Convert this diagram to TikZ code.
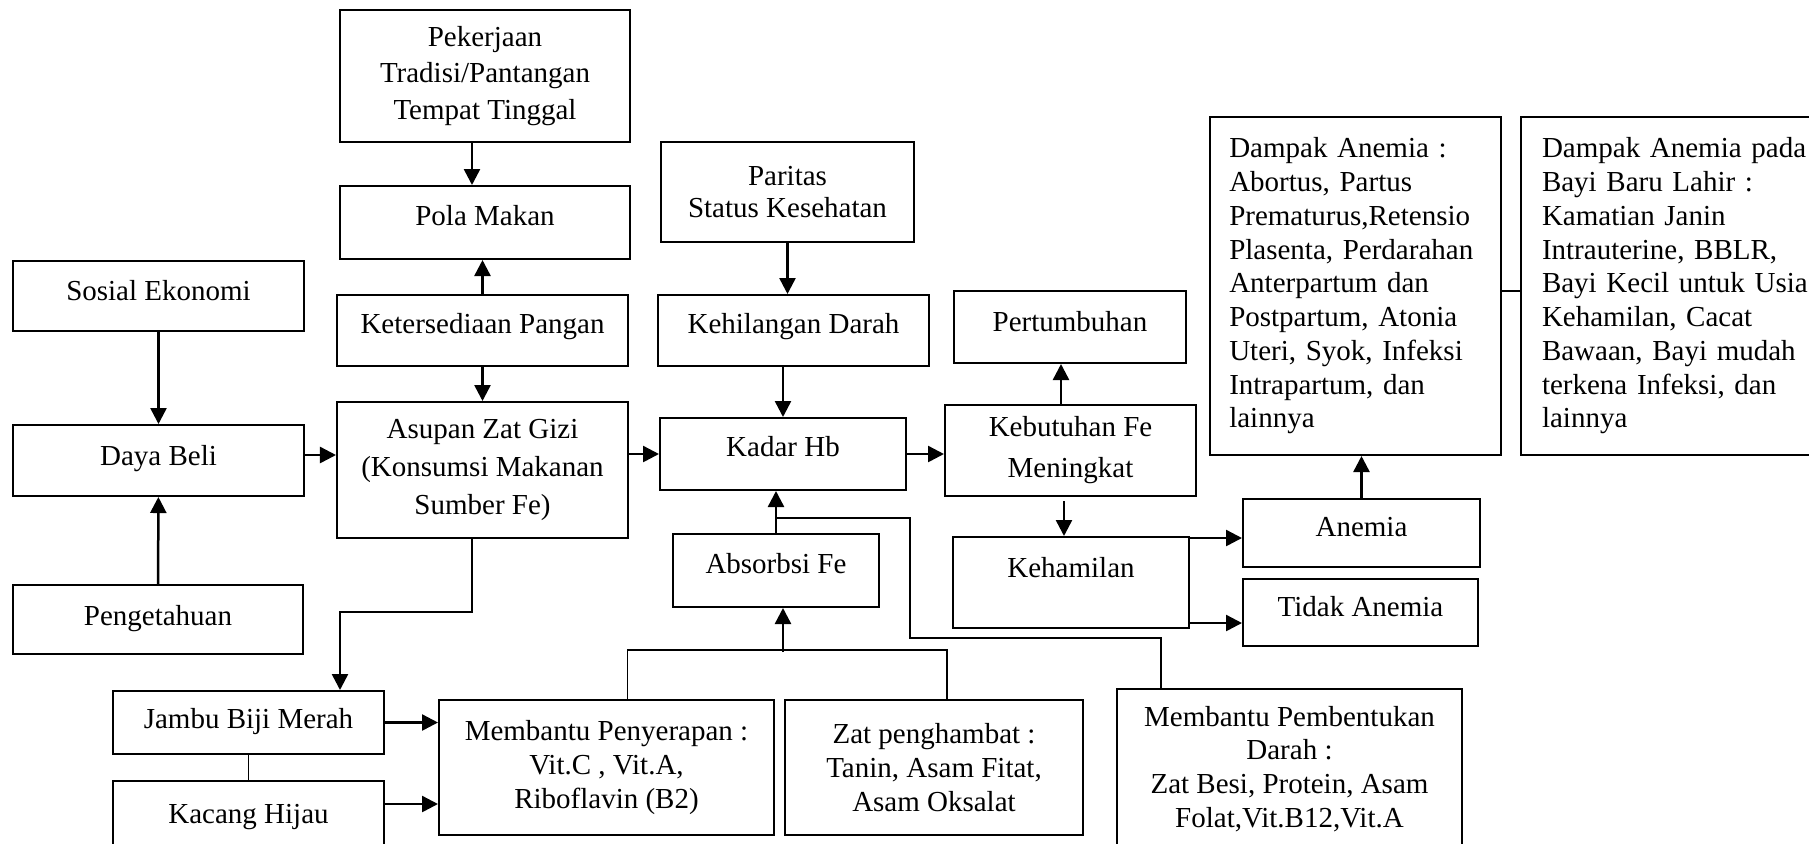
\documentclass[tikz,border=0pt]{standalone}
\usepackage{fontspec}
\setmainfont{Liberation Serif}
\usepackage{tikz}
\usetikzlibrary{arrows.meta}

\begin{document}
\begin{tikzpicture}[>={Triangle[length=6.4pt,width=6.4pt]},x=0.4pt,y=-0.4pt,line width=1pt]
		\tikzstyle{box}=[draw,line width=0.8pt,align=center,inner sep=0pt,font=\fontsize{11.6}{13.5}\selectfont]
		\tikzstyle{line}=[line width=0.6pt]

		\useasboundingbox (0,0) rectangle (1809,843);
		\clip (0,0) rectangle (1809,843);

		\node[box,minimum width=116pt,minimum height=52.8pt,font=\fontsize{11.6}{14.5}\selectfont] (pekerjaan) at (485,76) {Pekerjaan\\Tradisi/Pantangan\\Tempat Tinggal};
		\node[box,minimum width=116pt,minimum height=29.2pt,text depth=6pt] (pola) at (485,222.5) {Pola Makan};
		\node[box,minimum width=116.4pt,minimum height=28pt,text depth=4.8pt] (sosial) at (158.5,296) {Sosial Ekonomi};
		\node[box,minimum width=116.4pt,minimum height=28.4pt,text depth=6pt] (ketersediaan) at (482.5,330.5) {Ketersediaan Pangan};
		\node[box,minimum width=116.4pt,minimum height=28.4pt,text depth=4.4pt] (dayabeli) at (158.5,460.5) {Daya Beli};
		\node[box,minimum width=116.4pt,minimum height=54.4pt,font=\fontsize{11.6}{15.2}\selectfont] (asupan) at (482.5,470) {Asupan Zat Gizi\\(Konsumsi Makanan\\Sumber Fe)};
		\node[box,minimum width=116pt,minimum height=27.6pt,text depth=3pt] (pengetahuan) at (158,619.5) {Pengetahuan};

		\node[box,minimum width=101.2pt,minimum height=40pt,font=\fontsize{11.6}{12.6}\selectfont] (paritas) at (787.5,192) {Paritas\\Status Kesehatan};
		\node[box,minimum width=108.4pt,minimum height=28.4pt,text depth=6pt] (kehilangan) at (793.5,330.5) {Kehilangan Darah};
		\node[box,minimum width=98.4pt,minimum height=28.8pt,text depth=6.4pt] (kadar) at (783,454) {Kadar Hb};
		\node[box,minimum width=82.4pt,minimum height=29.2pt,text depth=6pt] (absorbsi) at (776,570.5) {Absorbsi Fe};

		\node[box,minimum width=92.8pt,minimum height=28.8pt,text depth=4.8pt] (pertumbuhan) at (1070,327) {Pertumbuhan};
		\node[box,minimum width=100.4pt,minimum height=36.4pt,font=\fontsize{11.6}{16.4}\selectfont] (kebutuhan) at (1070.5,450.5) {Kebutuhan Fe\\Meningkat};
		\node[box,minimum width=94.4pt,minimum height=36.4pt,text depth=12.4pt] (kehamilan) at (1071,582.5) {Kehamilan};
		\node[box,minimum width=94.8pt,minimum height=27.2pt,text depth=4.8pt] (anemia) at (1361.5,533) {Anemia};
		\node[box,minimum width=94pt,minimum height=26.8pt,text depth=5.2pt] (tidak) at (1360.5,612.5) {Tidak Anemia};

		\node[box,minimum width=116.4pt,minimum height=135.2pt,text width=101pt,inner xsep=7.7pt,align=left] (dampak) at (1355.5,286) {Dampak Anemia :\\Abortus, Partus\\Prematurus,Retensio\\Plasenta, Perdarahan\\Anterpartum dan\\Postpartum, Atonia\\Uteri, Syok, Infeksi\\Intrapartum, dan\\lainnya};
		\node[box,minimum width=126.8pt,minimum height=135.2pt,text width=110pt,inner xsep=8.4pt,align=left] (bayi) at (1679.5,286) {Dampak Anemia pada\\Bayi Baru Lahir :\\Kamatian Janin\\Intrauterine, BBLR,\\Bayi Kecil untuk Usia\\Kehamilan, Cacat\\Bawaan, Bayi mudah\\terkena Infeksi, dan\\lainnya};

		\node[box,minimum width=108.4pt,minimum height=25.2pt,text depth=3.6pt] (jambu) at (248.5,722.5) {Jambu Biji Merah};
		\node[box,minimum width=108.4pt,minimum height=28.8pt] (kacang) at (248.5,817) {Kacang Hijau};
		\node[box,minimum width=134pt,minimum height=54pt] (penyerapan) at (606.5,767.5) {Membantu Penyerapan :\\Vit.C , Vit.A,\\Riboflavin (B2)};
		\node[box,minimum width=119.2pt,minimum height=54pt] (penghambat) at (934,767.5) {Zat penghambat :\\Tanin, Asam Fitat,\\Asam Oksalat};
		\node[box,minimum width=138pt,minimum height=64pt] (pembentukan) at (1289.5,769) {Membantu Pembentukan\\Darah :\\Zat Besi, Protein, Asam\\Folat,Vit.B12,Vit.A};

		\draw[->] ([xshift=-5.2pt]pekerjaan.south) -- ([xshift=-5.2pt]pola.north);
		\draw[->] (ketersediaan.north) -- (ketersediaan.north |- pola.south);
		\draw[->] (ketersediaan) -- (asupan);
		\draw[->] (sosial) -- (dayabeli);
		\draw[->] (pengetahuan) -- (dayabeli);
		\draw[->] ([yshift=2.2pt]dayabeli.east) -- ([yshift=2.2pt]dayabeli.east -| asupan.west);
		\draw[->] (asupan.east |- kadar) -- (kadar.west);
		\draw[->] (kadar.east) -- (kadar.east -| kebutuhan.west);
		\draw[->] (paritas.south) -- (paritas.south |- kehilangan.north);
		\draw[->] (kadar.north |- kehilangan.south) -- (kadar.north);
		\draw[->] (absorbsi.north) -- (absorbsi.north |- kadar.south);
		\draw[->] ([xshift=-3.8pt]kebutuhan.north) -- ([xshift=-3.8pt]kebutuhan.north |- pertumbuhan.south);
		\draw[->] ([xshift=-2.6pt,yshift=-1.6pt]kebutuhan.south) -- ([xshift=-2.6pt]kebutuhan.south |- kehamilan.north);
		\draw[->] ([yshift=-0.8pt]kehamilan.north east) -- ([yshift=-0.8pt]kehamilan.north east -| anemia.west);
		\draw[->] ([yshift=2.4pt]kehamilan.south east) -- ([yshift=2.4pt]kehamilan.south east -| tidak.west);
		\draw[->] (anemia.north) -- (anemia.north |- dampak.south);
		\draw[line] ([yshift=-2pt]dampak.east) -- ([yshift=-2pt]dampak.east -| bayi.west);

		\draw[->] ([xshift=-4.2pt]asupan.south) -- ++(0,73) -| ([xshift=36.6pt]jambu.north);
		\draw[line] (jambu) -- (kacang);
		\draw[->] (jambu.east) -- (jambu.east -| penyerapan.west);
		\draw[->] ([yshift=5.2pt]kacang.east) -- ([yshift=5.2pt]kacang.east -| penyerapan.west);
		\draw[line] ([xshift=8.4pt]penyerapan.north) -- ++(0,-49) -| ([xshift=5.2pt]penghambat.north);
		\draw[->] ([xshift=2.8pt]absorbsi.south) ++(0,44) -- ([xshift=2.8pt]absorbsi.south);
		\draw[line] ([yshift=6pt]absorbsi.north) -- ++(134,0) -- ++(0,120) -| ([xshift=18pt]pembentukan.north west);
	\end{tikzpicture}
\end{document}
